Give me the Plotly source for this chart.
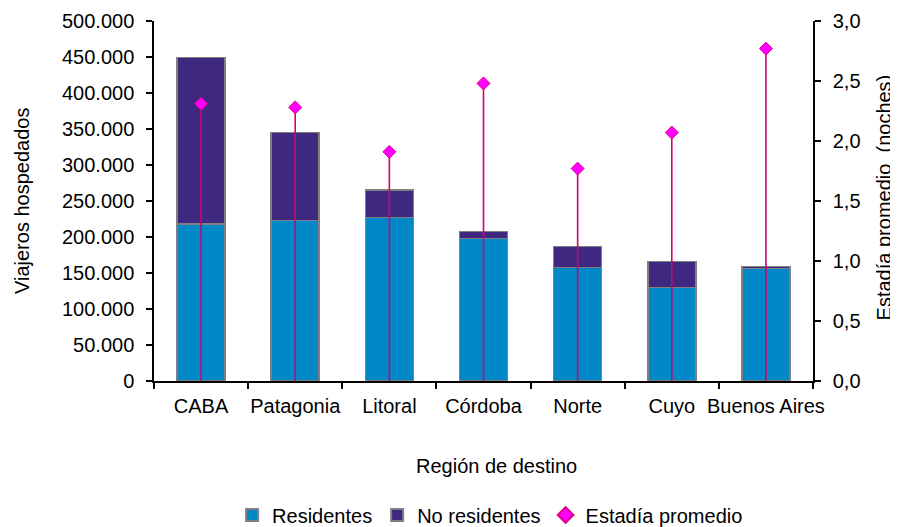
import plotly.graph_objects as go

regiones = ["CABA", "Patagonia", "Litoral", "Córdoba", "Norte", "Cuyo", "Buenos Aires"]
residentes = [218000, 222600, 227300, 197700, 157400, 129600, 156500]
no_residentes = [231000, 122800, 38000, 9700, 29200, 36100, 2300]
estadia = [2.31, 2.28, 1.91, 2.48, 1.77, 2.07, 2.77]

FONT = "Liberation Sans, Arial, sans-serif"
fs = 20

fig = go.Figure()
fig.add_trace(go.Bar(
    x=regiones, y=residentes, name="Residentes",
    marker=dict(color="#0088C8", line=dict(color="#808080", width=1.5)),
))
fig.add_trace(go.Bar(
    x=regiones, y=no_residentes, name="No residentes",
    marker=dict(color="#3F2880", line=dict(color="#808080", width=1.5)),
))
fig.add_trace(go.Scatter(
    x=regiones, y=estadia, name="Estadía promedio", yaxis="y2",
    mode="markers",
    marker=dict(symbol="diamond", size=10, color="#FF00FF",
                line=dict(color="#E0008A", width=1)),
    error_y=dict(type="data", symmetric=False, array=[0] * len(estadia),
                 arrayminus=estadia, color="#D4006E", thickness=1.6, width=0),
))

fig.update_layout(
    width=890, height=519,
    margin=dict(l=146, r=85, t=13, b=146, autoexpand=False),
    paper_bgcolor="white", plot_bgcolor="white",
    barmode="stack", bargap=0.49,
    separators=",.",
    font=dict(family=FONT, size=fs, color="black"),
    showlegend=True,
    legend=dict(orientation="h", x=0.51, xanchor="center", y=-0.372, yanchor="middle",
                font=dict(size=fs), itemsizing="constant", traceorder="normal",
                itemwidth=30),
    xaxis=dict(
        type="category", showline=True, linecolor="black", linewidth=1.5,
        ticks="outside", ticklen=6, tickcolor="black", tickwidth=1.5,
        tickson="boundaries", showgrid=False, ticklabelstandoff=6,
        tickangle=0, automargin=False,
        tickfont=dict(size=fs),
    ),
    yaxis=dict(
        range=[0, 500000], dtick=50000, tickformat=",.0f",
        showline=True, linecolor="black", linewidth=1.5,
        ticks="outside", ticklen=6, tickcolor="black", tickwidth=1.5,
        ticklabelstandoff=8,
        showgrid=False, zeroline=False, tickfont=dict(size=fs), automargin=False,
    ),
    yaxis2=dict(
        range=[0, 3], dtick=0.5, tickformat=".1f", overlaying="y", side="right",
        showline=True, linecolor="black", linewidth=1.5,
        ticks="outside", ticklen=6, tickcolor="black", tickwidth=1.5,
        ticklabelstandoff=8,
        showgrid=False, zeroline=False, tickfont=dict(size=fs), automargin=False,
    ),
    annotations=[
        dict(text="Región de destino", xref="paper", yref="paper",
             x=0.52, y=-(466 - 381) / 360, xanchor="center", yanchor="middle",
             showarrow=False, font=dict(size=fs)),
        dict(text="Viajeros hospedados", xref="paper", yref="paper",
             x=-(154 - 22) / 659, y=0.5, xanchor="center", yanchor="middle",
             textangle=-90, showarrow=False, font=dict(size=fs)),
        dict(text="Estadía promedio  (noches)", xref="paper", yref="paper",
             x=1 + (884 - 813) / 659, y=0.51, xanchor="center", yanchor="middle",
             textangle=-90, showarrow=False, font=dict(size=fs)),
    ],
)

fig.write_html("out.html")
